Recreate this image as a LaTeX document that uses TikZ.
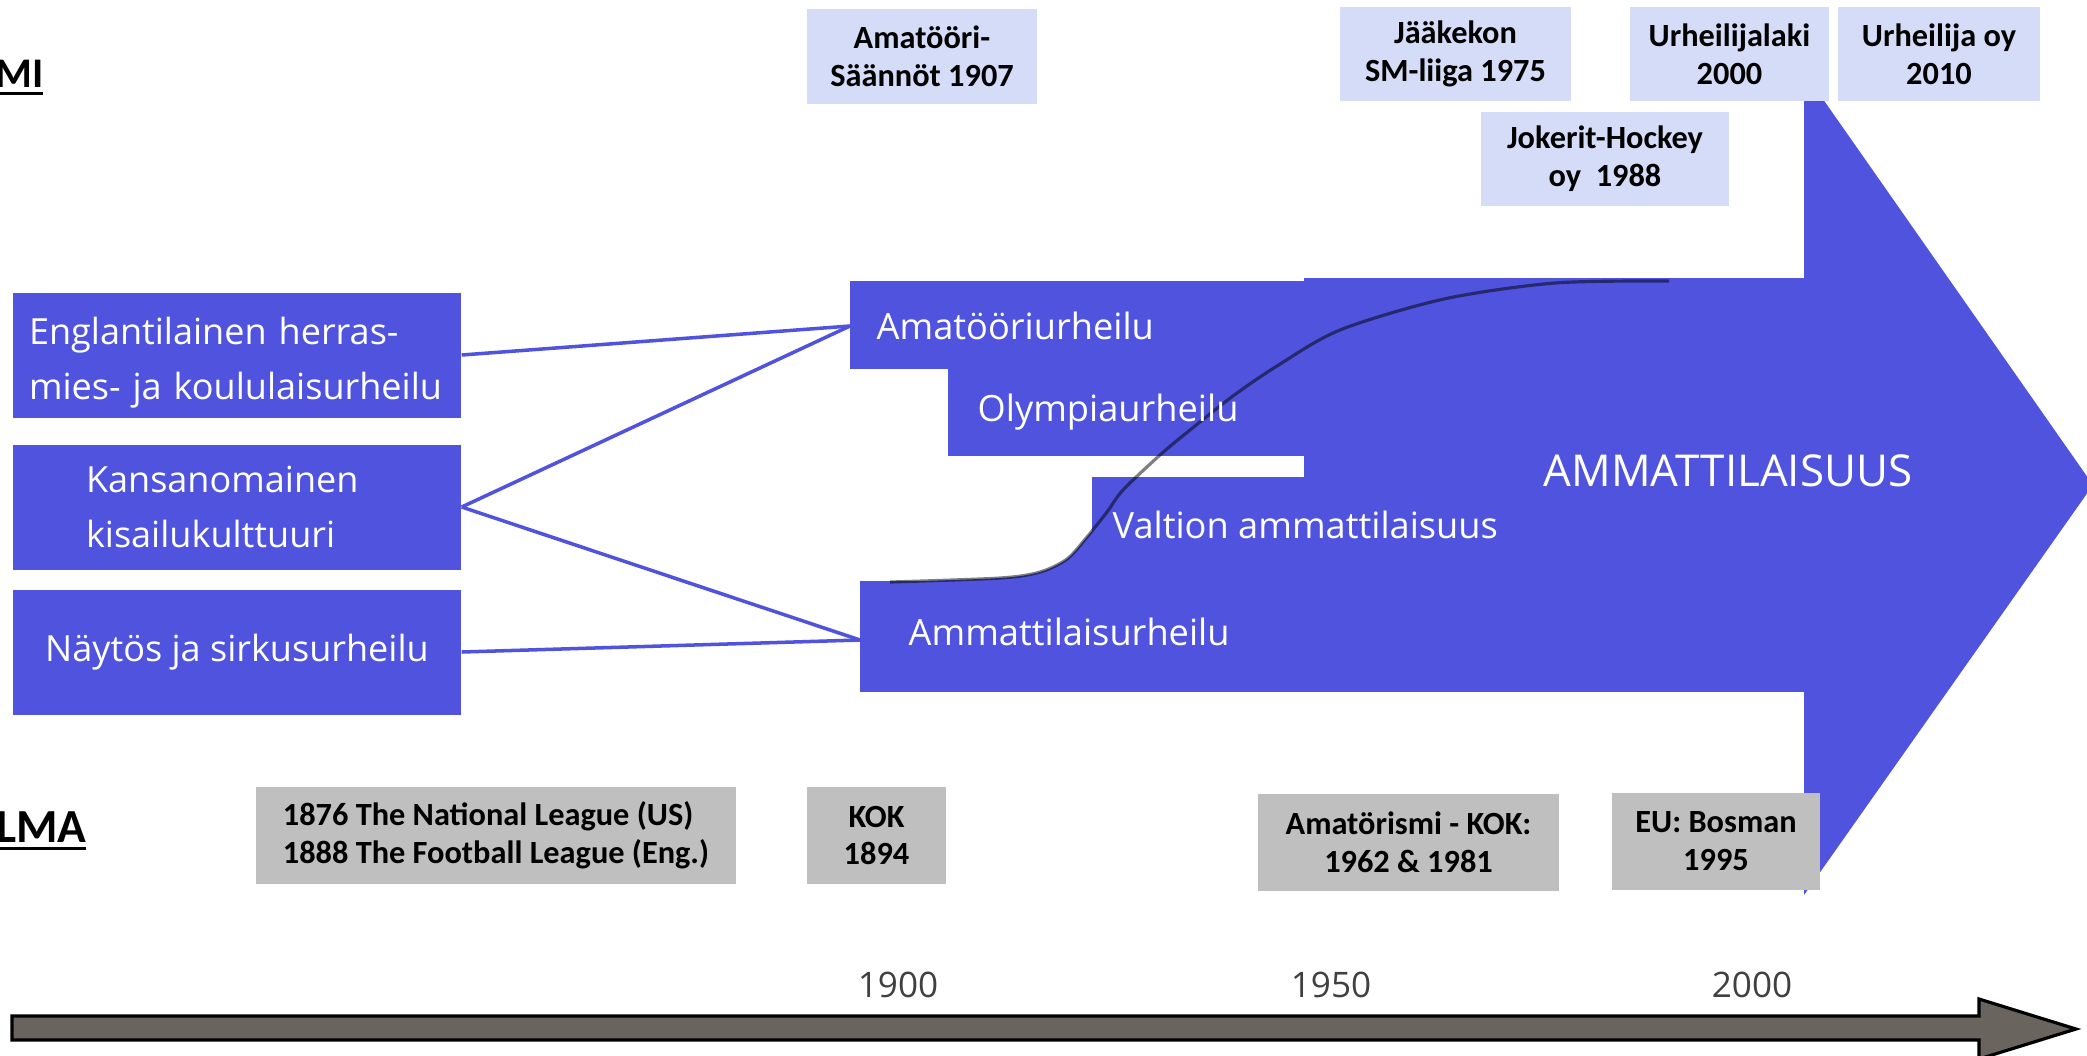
\documentclass[tikz,border=0pt]{standalone}
\usepackage{fontspec}
\setmainfont{Open Sans}
\newfontfamily\calib{Carlito}
\usepackage{xcolor}
\usepackage{tikz}

\definecolor{sportblue}{RGB}{79,83,222}
\definecolor{notelight}{RGB}{212,220,247}
\definecolor{notegrey}{RGB}{191,191,191}
\definecolor{axisfill}{RGB}{105,100,94}
\definecolor{yeargrey}{RGB}{64,64,64}

\newcommand{\ultext}[1]{\setbox0=\hbox{#1}\rlap{\rule[-2.3pt]{\wd0}{0.9pt}}\box0}

\tikzset{
  srcbox/.style={fill=sportblue, text=white, minimum width=44.8mm, minimum height=12.5mm, inner sep=0pt, font=\fontsize{10.25}{15.5}\selectfont},
  flowlbl/.style={text=white, inner sep=0pt, font=\fontsize{10.3}{12}\selectfont},
  eventbox/.style={fill=notelight, inner sep=0pt, align=center, font=\calib\bfseries\fontsize{9.2}{10.8}\selectfont},
  factbox/.style={eventbox, fill=notegrey},
  link/.style={sportblue, line width=1pt},
  yearlbl/.style={text=yeargrey, inner sep=0pt, font=\fontsize{10}{12}\selectfont},
  cornerlbl/.style={anchor=base east, inner sep=0pt, font=\calib\bfseries\fontsize{12}{14}\selectfont}
}

\begin{document}
\begin{tikzpicture}[x=0.1mm, y=-0.1mm]
    \useasboundingbox (0,0) rectangle (2087,1055);

    % Corner titles
    \node[cornerlbl] (mi) at (44,87) {\ultext{MI}};
    \node[cornerlbl, font=\calib\bfseries\fontsize{13.5}{15}\selectfont] (lma) at (87,842) {\ultext{LMA}};

    % Development arrow
    \fill[sportblue] (850,281) rectangle (1304,369);
    \fill[sportblue] (948,369) rectangle (1304,456);
    \fill[sportblue] (1092,477) rectangle (1304,581);
    \fill[sportblue] (860,581) rectangle (1304,692);
    \fill[sportblue] (1304,278) rectangle (1804,692);
    \fill[sportblue] (1804,72) -- (2093,485) -- (1804,895) -- cycle;
    \begin{scope}
        \clip (860,450) rectangle (1092,581);
        \fill[sportblue] plot[smooth, tension=0.5] coordinates {(890,582) (1000,578) (1040,572) (1067,559) (1087,537) (1107,512) (1123,490) (1160,455) (1190,430) (1233,396) (1277,366) (1340,330) (1444,299) (1555,283) (1669,281)} -- (1700,700) -- (860,700) -- cycle;
    \end{scope}

    % S-curve
    \draw[black, draw opacity=0.5, line width=0.9pt] plot[smooth, tension=0.5] coordinates {(890,582) (1000,578) (1040,572) (1067,559) (1087,537) (1107,512) (1123,490) (1160,455) (1190,430) (1233,396) (1277,366) (1340,330) (1444,299) (1555,283) (1669,281)};

    % Labels on the arrow
    \node[flowlbl, anchor=base west] (amatlbl) at (876,339) {Amatööriurheilu};
    \node[flowlbl, anchor=base west] (olymplbl) at (977,421) {Olympiaurheilu};
    \node[flowlbl, anchor=base west] (valtlbl) at (1112,538) {Valtion ammattilaisuus};
    \node[flowlbl, anchor=base west] (ammatlbl) at (908,645) {Ammattilaisurheilu};
    \node[flowlbl, anchor=base west, font=\fontsize{12.5}{14}\selectfont] (mainlbl) at (1543,486) {AMMATTILAISUUS};

    % Sources
    \node[srcbox, text width=41.6mm, align=left] (eng) at (237,355) {\rule{0pt}{4.3mm}Englantilainen herras-\\mies- ja koululaisurheilu};
    \node[srcbox, text width=30.2mm, align=left] (kansa) at (237,507) {Kansanomainen\\kisailukulttuuri};
    \node[srcbox, align=center] (naytos) at (237,652) {Näytös ja sirkusurheilu};

    \coordinate (amatin) at (850,326);
    \coordinate (ammatin) at (860,640);

    \draw[link] (eng.east) -- (amatin);
    \draw[link] (kansa.east) -- (amatin);
    \draw[link] (kansa.east) -- (ammatin);
    \draw[link] (naytos.east) -- (ammatin);

    % Events above
    \node[eventbox, minimum width=23mm, minimum height=9.5mm] (saannot) at (922,56.5) {Amatööri-\\Säännöt 1907};
    \node[eventbox, minimum width=23.1mm, minimum height=9.4mm] (smliiga) at (1455.5,54) {Jääkekon\\SM-liiga 1975};
    \node[eventbox, minimum width=19.9mm, minimum height=9.4mm] (laki) at (1729.5,54) {Urheilijalaki\\2000};
    \node[eventbox, minimum width=20.2mm, minimum height=9.4mm] (urhoy) at (1939,54) {Urheilija oy\\2010};
    \node[eventbox, minimum width=24.8mm, minimum height=9.4mm] (jokerit) at (1605,159) {Jokerit-Hockey\\oy\ \ 1988};

    % Events below
    \node[factbox, align=left, minimum width=48mm, minimum height=9.7mm] (liigat) at (496,835.5) {1876 The National League (US)\\1888 The Football League (Eng.)};
    \node[factbox, minimum width=13.9mm, minimum height=9.7mm] (kok) at (876.5,835.5) {KOK\\1894};
    \node[factbox, minimum width=30.1mm, minimum height=9.7mm] (amatkok) at (1408.5,842.5) {Amatörismi - KOK:\\1962 \& 1981};
    \node[factbox, minimum width=20.8mm, minimum height=9.7mm] (bosman) at (1716,841.5) {EU: Bosman\\1995};

    % Timeline
    \draw[fill=axisfill, line width=0.9pt] (12,1016) -- (1979,1016) -- (1979,999) -- (2076,1029) -- (1979,1059) -- (1979,1040) -- (12,1040) -- cycle;
    \node[yearlbl, anchor=base] (y1900) at (898,997) {1900};
    \node[yearlbl, anchor=base] (y1950) at (1331,997) {1950};
    \node[yearlbl, anchor=base] (y2000) at (1752,997) {2000};
\end{tikzpicture}
\end{document}
